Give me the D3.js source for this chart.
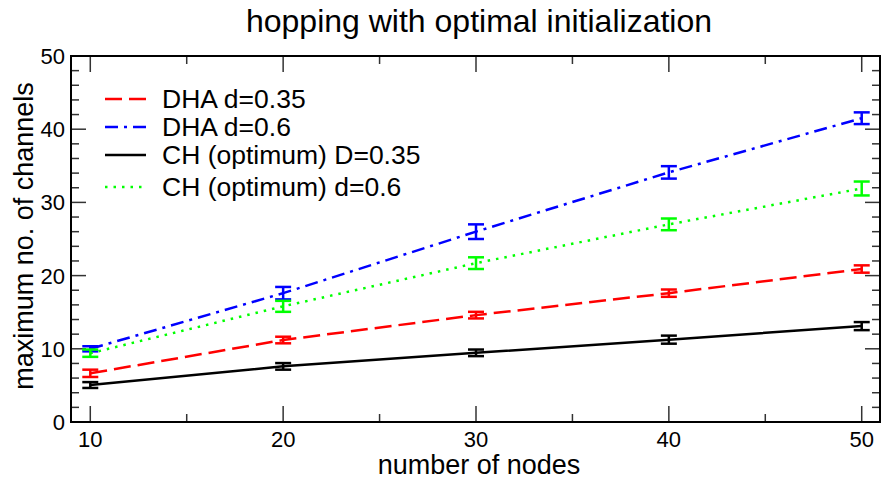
<!DOCTYPE html>
<html>
<head>
<meta charset="utf-8">
<script src="https://cdn.jsdelivr.net/npm/d3@7"></script>
<style>
  body { margin: 0; background: #fff; }
  text { font-family: "Liberation Sans", Arial, sans-serif; fill: #000; }
</style>
</head>
<body>
<div id="chart"></div>
<script>
// number of nodes
const nodes = [10, 20, 30, 40, 50];

// series values (mean) and error half-widths
const dha035 = [6.65, 11.2, 14.6, 17.6, 20.9];
const dha035Err = [0.5, 0.45, 0.45, 0.5, 0.5];
const dha06 = [10.0, 17.6, 26.0, 34.1, 41.5];
const dha06Err = [0.35, 0.85, 1.0, 0.85, 0.8];
const ch035 = [5.05, 7.6, 9.45, 11.25, 13.1];
const ch035Err = [0.4, 0.45, 0.45, 0.55, 0.55];
const ch06 = [9.4, 15.8, 21.7, 27.0, 31.9];
const ch06Err = [0.5, 0.75, 0.8, 0.8, 0.95];

const seriesNames = ["DHA d=0.35", "DHA d=0.6", "CH (optimum) D=0.35", "CH (optimum) d=0.6"];

const yTicks = [0, 10, 20, 30, 40, 50];
const xTicks = [10, 20, 30, 40, 50];

const width = 882, height = 481;
const margin = { top: 56, right: 1, bottom: 59, left: 71 };

const svg = d3.select("#chart").append("svg")
  .attr("width", width)
  .attr("height", height);

const x = d3.scaleLinear().domain([9, 51]).range([margin.left, width - margin.right]);
const y = d3.scaleLinear().domain([0, 50]).range([height - margin.bottom, margin.top]);

const styles = [
  { color: "#ff0000", dash: "17,7" },
  { color: "#0000ff", dash: "13,6,3,6" },
  { color: "#000000", dash: null },
  { color: "#00ff00", dash: "2.5,6" }
];

const series = [
  { vals: dha035, err: dha035Err },
  { vals: dha06, err: dha06Err },
  { vals: ch035, err: ch035Err },
  { vals: ch06, err: ch06Err }
];

// ticks (inward, on all four sides)
const tickG = svg.append("g").attr("stroke", "#333").attr("stroke-width", 1.5);
const x0 = x.range()[0], x1 = x.range()[1] - 1, yb = y.range()[0], yt = y.range()[1];

d3.range(0, 51, 2).forEach(v => {
  const len = v % 10 === 0 ? 15 : 8;
  tickG.append("line").attr("x1", x0).attr("x2", x0 + len).attr("y1", y(v)).attr("y2", y(v));
  tickG.append("line").attr("x1", x1).attr("x2", x1 - len).attr("y1", y(v)).attr("y2", y(v));
});
d3.range(10, 51, 5).forEach(v => {
  const len = v % 10 === 0 ? 16 : 8;
  tickG.append("line").attr("x1", x(v)).attr("x2", x(v)).attr("y1", yb).attr("y2", yb - len);
  tickG.append("line").attr("x1", x(v)).attr("x2", x(v)).attr("y1", yt).attr("y2", yt + len);
});

// frame
svg.append("rect")
  .attr("x", x0).attr("y", yt)
  .attr("width", x1 - x0).attr("height", yb - yt)
  .attr("fill", "none").attr("stroke", "#000").attr("stroke-width", 2);

// tick labels
svg.append("g").selectAll("text").data(yTicks).join("text")
  .attr("x", x0 - 6).attr("y", d => y(d)).attr("dy", "0.36em")
  .attr("text-anchor", "end").style("font-size", "22px")
  .text(d => d);

svg.append("g").selectAll("text").data(xTicks).join("text")
  .attr("x", d => x(d)).attr("y", yb + 25)
  .attr("text-anchor", "middle").style("font-size", "22px")
  .text(d => d);

// axis titles
svg.append("text")
  .attr("x", 479).attr("y", 474)
  .attr("text-anchor", "middle").style("font-size", "27px")
  .text("number of nodes");

svg.append("text")
  .attr("transform", "translate(33,236) rotate(-90)")
  .attr("text-anchor", "middle").style("font-size", "27px")
  .text("maximum no. of channels");

svg.append("text")
  .attr("x", 479).attr("y", 32)
  .attr("text-anchor", "middle").style("font-size", "32px")
  .text("hopping with optimal initialization");

// lines and error bars
const line = d3.line().x((d, i) => x(nodes[i])).y(d => y(d));

series.forEach((s, k) => {
  const st = styles[k];
  svg.append("path")
    .datum(s.vals)
    .attr("d", line)
    .attr("fill", "none")
    .attr("stroke", st.color)
    .attr("stroke-width", 2.5)
    .attr("stroke-dasharray", st.dash);

  const eg = svg.append("g").attr("stroke", st.color).attr("stroke-width", 2.5);
  s.vals.forEach((v, i) => {
    const cx = x(nodes[i]);
    const lo = y(v - s.err[i]), hi = y(v + s.err[i]);
    eg.append("line").attr("x1", cx).attr("x2", cx).attr("y1", lo).attr("y2", hi);
    eg.append("line").attr("x1", cx - 8).attr("x2", cx + 8).attr("y1", lo).attr("y2", lo);
    eg.append("line").attr("x1", cx - 8).attr("x2", cx + 8).attr("y1", hi).attr("y2", hi);
  });
});

// legend
const legendY = [99, 127, 155, 187];
const legend = svg.append("g");
seriesNames.forEach((name, k) => {
  const st = styles[k];
  legend.append("line")
    .attr("x1", 105).attr("x2", 146)
    .attr("y1", legendY[k]).attr("y2", legendY[k])
    .attr("stroke", st.color).attr("stroke-width", 2.5)
    .attr("stroke-dasharray", st.dash);
  legend.append("text")
    .attr("x", 162).attr("y", legendY[k] + 9)
    .style("font-size", "26.5px")
    .text(name);
});
</script>
</body>
</html>
